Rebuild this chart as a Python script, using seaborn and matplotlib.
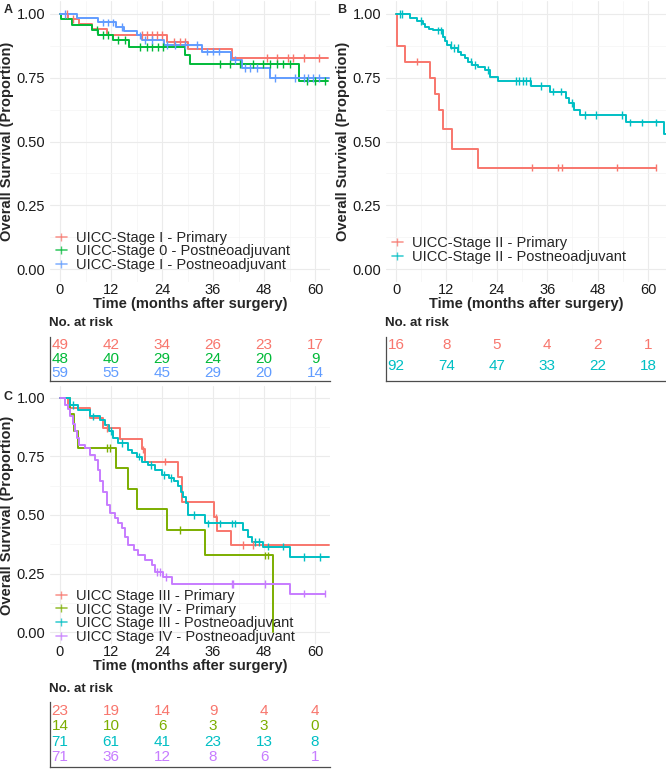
import numpy as np
import pandas as pd
import matplotlib
matplotlib.use("Agg")
import matplotlib.pyplot as plt
from matplotlib.lines import Line2D
from matplotlib.ticker import MultipleLocator
import seaborn as sns

# ---------------- data ----------------
months = [0, 12, 24, 36, 48, 60]

# Panel A
a_labels = ["UICC-Stage I - Primary", "UICC-Stage 0 - Postneoadjuvant", "UICC-Stage I - Postneoadjuvant"]
a_colors = ["#F8766D", "#00BA38", "#619CFF"]
a1_t = [0, 2.0, 4.5, 7.5, 11.0, 25.1, 30.2, 40.4, 63.1]
a1_s = [1.0, 0.980, 0.959, 0.939, 0.918, 0.891, 0.862, 0.828, 0.828]
a1_cens = [1.6, 3.1, 19.2, 20.4, 21.6, 22.7, 23.9, 26.7, 28.2, 29.4, 48.6, 51.0, 53.7, 54.9, 57.3, 60.8]
a2_t = [0, 0.3, 2.9, 7.6, 8.9, 12.4, 16.3, 29.4, 30.6, 56.3, 63.1]
a2_s = [1.0, 0.979, 0.958, 0.938, 0.917, 0.897, 0.871, 0.840, 0.804, 0.737, 0.737]
a2_cens = [8.6, 10.2, 11.4, 13.7, 15.3, 18.8, 20.4, 21.6, 23.1, 24.3, 37.6, 40.0, 42.4, 45.5,
           47.8, 49.4, 51.0, 52.5, 54.1, 58.0, 60.0, 62.4]
a3_t = [0, 4.1, 8.9, 13.1, 15.1, 18.0, 19.2, 24.4, 33.3, 40.1, 42.8, 49.4, 63.3]
a3_s = [1.0, 0.983, 0.966, 0.949, 0.932, 0.915, 0.898, 0.878, 0.852, 0.820, 0.787, 0.748, 0.748]
a3_cens = [1.2, 10.0, 11.2, 12.4, 14.7, 18.8, 20.0, 21.6, 25.1, 27.1, 29.4, 32.2, 34.5, 36.1,
           37.3, 41.2, 43.6, 44.7, 46.3, 50.6, 55.3, 57.3, 58.4, 59.6, 60.8]
a_risk = [[49, 42, 34, 26, 23, 17], [48, 40, 29, 24, 20, 9], [59, 55, 45, 29, 20, 14]]

# Panel B
b_labels = ["UICC-Stage II - Primary", "UICC-Stage II - Postneoadjuvant"]
b_colors = ["#F8766D", "#00BFC4"]
b1_t = [0, 0.2, 2.1, 8.2, 9.2, 10.3, 11.2, 13.4, 19.5, 61.8]
b1_s = [1.0, 0.875, 0.8125, 0.75, 0.6875, 0.625, 0.547, 0.469, 0.398, 0.398]
b1_cens = [4.9, 32.4, 38.6, 39.6, 52.6, 61.8]
b2_t = [0, 3.2, 4.9, 6.3, 6.8, 7.9, 8.9, 11.2, 11.6, 12.2, 13.2, 14.8, 15.4, 16.4, 17.2, 18.0,
        19.6, 21.1, 22.3, 24.3, 32.2, 36.6, 40.5, 41.2, 42.5, 43.7, 54.8, 63.8, 65.0]
b2_s = [1.0, 0.983, 0.972, 0.96, 0.95, 0.941, 0.935, 0.911, 0.894, 0.878, 0.865, 0.852, 0.839,
        0.826, 0.813, 0.8, 0.793, 0.78, 0.754, 0.737, 0.718, 0.695, 0.672, 0.65, 0.624, 0.604,
        0.575, 0.53, 0.53]
b2_cens = [0.9, 1.5, 6.0, 10.0, 10.8, 13.1, 13.9, 14.7, 17.9, 18.7, 21.9, 28.6, 29.4, 30.2, 31.0,
           31.8, 34.6, 37.3, 39.4, 42.0, 44.9, 47.7, 53.8, 55.8, 58.7, 61.9]
b_risk = [[16, 8, 5, 4, 2, 1], [92, 74, 47, 33, 22, 18]]

# Panel C
c_labels = ["UICC Stage III - Primary", "UICC Stage IV - Primary",
            "UICC Stage III - Postneoadjuvant", "UICC Stage IV - Postneoadjuvant"]
c_colors = ["#F8766D", "#7CAE00", "#00BFC4", "#C77CFF"]
c1_t = [0, 2.0, 7.1, 10.2, 14.1, 19.2, 20.0, 27.8, 28.6, 36.2, 37.0, 40.2, 63.3]
c1_s = [1.0, 0.957, 0.913, 0.870, 0.826, 0.780, 0.728, 0.664, 0.557, 0.490, 0.433, 0.372, 0.372]
c1_cens = [11.0, 19.6, 24.8, 36.6, 43.0, 45.5]
c2_t = [0, 2.35, 3.4, 4.2, 13.2, 16.1, 18.0, 25.1, 34.1, 50.2]
c2_s = [1.0, 0.929, 0.857, 0.786, 0.700, 0.611, 0.524, 0.437, 0.328, 0.0]
c2_cens = [11.0, 11.8, 28.2, 48.2, 49.0]
c3_t = [0, 2.35, 4.3, 7.1, 9.4, 10.6, 11.6, 12.5, 13.7, 15.9, 17.0, 18.0, 19.2, 20.6, 22.4, 23.9,
        25.6, 26.7, 27.8, 28.4, 29.0, 29.6, 30.1, 34.1, 43.1, 44.3, 45.1, 47.8, 54.1, 63.3]
c3_s = [1.0, 0.97, 0.949, 0.92, 0.906, 0.885, 0.857, 0.828, 0.806, 0.778, 0.764, 0.749, 0.728,
        0.714, 0.692, 0.671, 0.657, 0.643, 0.622, 0.60, 0.578, 0.55, 0.50, 0.464, 0.436, 0.408,
        0.386, 0.365, 0.322, 0.322]
c3_cens = [3.0, 7.8, 12.0, 14.5, 18.6, 21.5, 24.5, 26.2, 31.5, 34.9, 37.6, 40.4, 41.2, 45.9, 46.7,
           49.0, 52.5, 57.3, 61.2]
c4_t = [0, 1.2, 1.96, 2.35, 3.1, 3.5, 3.9, 4.5, 5.9, 7.06, 8.2, 9.0, 9.4, 10.2, 11.0, 11.8, 12.9,
        13.7, 14.5, 15.3, 16.1, 17.3, 18.4, 20.0, 21.6, 22.4, 24.3, 26.3, 54.1, 62.4]
c4_s = [1.0, 0.97, 0.95, 0.92, 0.89, 0.86, 0.83, 0.80, 0.785, 0.756, 0.735, 0.692, 0.643, 0.60,
        0.543, 0.507, 0.486, 0.464, 0.443, 0.407, 0.372, 0.35, 0.329, 0.307, 0.286, 0.258, 0.236,
        0.205, 0.165, 0.165]
c4_cens = [22.8, 23.6, 25.0, 40.4, 40.8, 48.2, 57.3, 62.4]
c_risk = [[23, 19, 14, 9, 4, 4], [14, 10, 6, 3, 3, 0], [71, 61, 41, 23, 13, 8], [71, 36, 12, 8, 6, 1]]

# ---------------- style ----------------
sns.set_style("white")
plt.rcParams["font.family"] = ["Liberation Sans", "DejaVu Sans"]
XLIM_AC = (-2.35, 63.5)
XLIM_B = (-2.4, 64.3)
W, H = 666, 772

fig = plt.figure(figsize=(W / 100, H / 100), dpi=100)


def px_axes(left, top, right, bottom):
    return fig.add_axes([left / W, 1 - bottom / H, (right - left) / W, (bottom - top) / H])


def km_panel(ax, labels, colors, times, survs, cens, legend_anchor, xlim):
    pal = dict(zip(labels, colors))
    df = pd.concat([pd.DataFrame({"time": t, "surv": s, "group": lab})
                    for lab, t, s in zip(labels, times, survs)])
    sns.lineplot(data=df, x="time", y="surv", hue="group", palette=pal, drawstyle="steps-post",
                 estimator=None, sort=False, lw=1.4, legend=False, ax=ax)
    cdf = []
    for lab, t, s, c in zip(labels, times, survs, cens):
        idx = np.searchsorted(t, c, side="right") - 1
        cdf.append(pd.DataFrame({"time": c, "surv": np.asarray(s)[idx], "group": lab}))
    cdf = pd.concat(cdf)
    sns.scatterplot(data=cdf, x="time", y="surv", hue="group", palette=pal, marker="|", s=30,
                    linewidth=1.0, legend=False, ax=ax, zorder=3)

    ax.set_xlim(xlim)
    ax.set_ylim(-0.05, 1.05)
    ax.set_xticks(months)
    ax.set_yticks([0, 0.25, 0.5, 0.75, 1.0])
    ax.set_yticklabels(["0.00", "0.25", "0.50", "0.75", "1.00"])
    ax.xaxis.set_minor_locator(MultipleLocator(6))
    ax.yaxis.set_minor_locator(MultipleLocator(0.125))
    ax.grid(True, which="major", color="#EBEBEB", lw=0.8)
    ax.grid(True, which="minor", color="#F4F4F4", lw=0.5)
    ax.set_axisbelow(True)
    for sp in ax.spines.values():
        sp.set_visible(False)
    ax.tick_params(axis="both", which="major", labelsize=10.5, length=2.5, width=0.6,
                   color="#333333", pad=1, labelcolor="#1a1a1a")
    ax.tick_params(axis="x", length=0, pad=1)
    ax.tick_params(which="minor", length=0)
    ax.set_xlabel("Time (months after surgery)", fontsize=10.5, fontweight="bold", labelpad=0)
    ax.set_ylabel("Overall Survival (Proportion)", fontsize=10.5, fontweight="bold", labelpad=2)

    handles = [Line2D([], [], color=c, lw=1.2, marker="|", markersize=6, alpha=0.75) for c in colors]
    ax.legend(handles, labels, loc="lower left", bbox_to_anchor=legend_anchor, frameon=False,
              fontsize=10.5, handlelength=0.8, handletextpad=0.6, labelspacing=-0.02, borderpad=0,
              borderaxespad=0)


def risk_table(ax, risk, colors, ylim, xlim):
    for i, (row, c) in enumerate(zip(risk, colors)):
        for m, n in zip(months, row):
            ax.text(m, i, str(n), color=c, ha="center", va="center", fontsize=11)
    ax.set_xlim(xlim)
    ax.set_ylim(ylim)
    ax.set_xticks([])
    ax.set_yticks([])
    for side in ["top", "right"]:
        ax.spines[side].set_visible(False)
    for side in ["left", "bottom"]:
        ax.spines[side].set_color("#4D4D4D")
        ax.spines[side].set_linewidth(0.9)
    ax.set_facecolor("none")


axA = px_axes(50, 1, 330, 282)
axB = px_axes(386, 1, 666, 282)
axC = px_axes(50, 386, 330, 644)

km_panel(axA, a_labels, a_colors, [a1_t, a2_t, a3_t], [a1_s, a2_s, a3_s],
         [a1_cens, a2_cens, a3_cens], (0.02, 0.035), XLIM_AC)
km_panel(axB, b_labels, b_colors, [b1_t, b2_t], [b1_s, b2_s], [b1_cens, b2_cens], (0.02, 0.065),
         XLIM_B)
km_panel(axC, c_labels, c_colors, [c1_t, c2_t, c3_t, c4_t], [c1_s, c2_s, c3_s, c4_s],
         [c1_cens, c2_cens, c3_cens, c4_cens], (0.02, 0.0), XLIM_AC)

tabA = px_axes(50, 337, 330, 381)
tabB = px_axes(386, 337, 666, 381)
tabC = px_axes(50, 702, 330, 767)
risk_table(tabA, a_risk, a_colors, (2.6, -0.55), XLIM_AC)
risk_table(tabB, b_risk, b_colors, (1.71, -0.375), XLIM_B)
risk_table(tabC, c_risk, c_colors, (3.65, -0.585), XLIM_AC)

for x, y in [(49, 323), (385, 323), (49, 689)]:
    fig.text(x / W, 1 - y / H, "No. at risk", fontsize=9.5, fontweight="bold", va="center", ha="left")

for lab, x, y in [("A", 4, 10), ("B", 337, 10), ("C", 4, 397)]:
    fig.text(x / W, 1 - y / H, lab, fontsize=9, fontweight="bold", va="center", ha="left")

fig.savefig("out.png", dpi=100)
